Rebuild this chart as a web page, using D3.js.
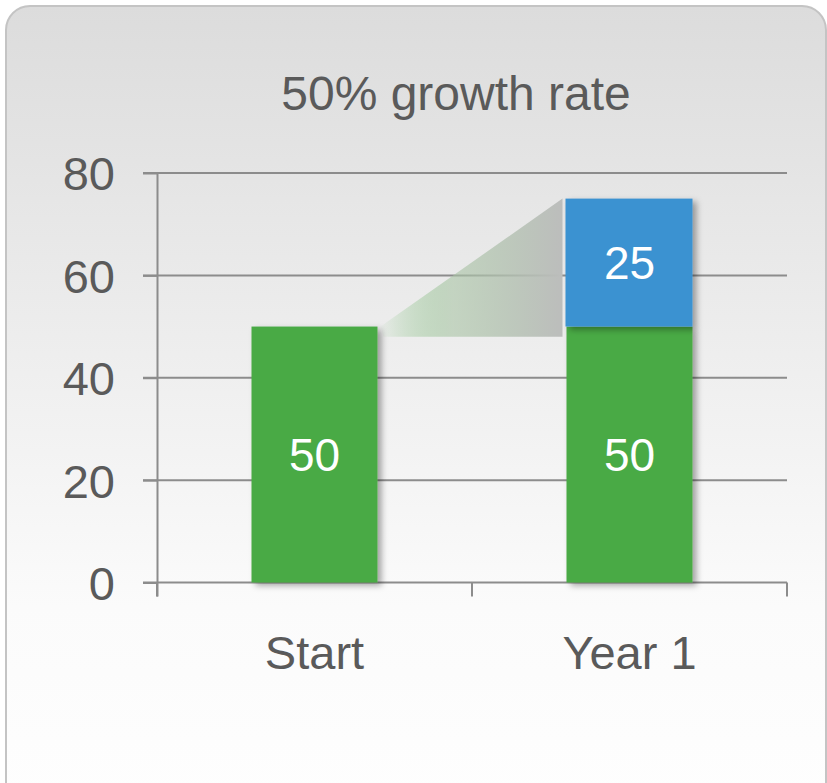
<!DOCTYPE html>
<html>
<head>
<meta charset="utf-8">
<script src="https://cdn.jsdelivr.net/npm/d3@7"></script>
<style>
  body { margin: 0; background: #fff; }
  text { font-family: "Liberation Sans", Arial, sans-serif; }
</style>
</head>
<body>
<svg id="chart" width="827" height="783"></svg>
<script>
const categories = ["Start", "Year 1"];
const baseValues = [50, 50];
const growthValues = [0, 25];
const yTicks = [0, 20, 40, 60, 80];
const title = "50% growth rate";

const width = 827;
const height = 783;
const marginLeft = 157;
const marginRight = 40;
const yTop = 173;
const yBottom = 582.5;

const green = "#4aaa45";
const blue = "#3b92d1";
const textColor = "#5a5a5a";
const gridColor = "#8c8c8c";

const svg = d3.select("#chart");
const defs = svg.append("defs");

// card background
const bg = defs.append("linearGradient")
    .attr("id", "bg").attr("x1", 0).attr("y1", 0).attr("x2", 0).attr("y2", 1);
bg.append("stop").attr("offset", 0).attr("stop-color", "#dcdcdc");
bg.append("stop").attr("offset", 0.75).attr("stop-color", "#fbfbfb");
bg.append("stop").attr("offset", 1).attr("stop-color", "#fefefe");

// connector fill
const conn = defs.append("linearGradient")
    .attr("id", "conn").attr("x1", 0).attr("y1", 0).attr("x2", 1).attr("y2", 0);
conn.append("stop").attr("offset", 0).attr("stop-color", "#4aaa45").attr("stop-opacity", 0.02);
conn.append("stop").attr("offset", 0.4).attr("stop-color", "#a9c4a5").attr("stop-opacity", 0.6);
conn.append("stop").attr("offset", 1).attr("stop-color", "#bcbdbc").attr("stop-opacity", 1);

const shadow = defs.append("filter")
    .attr("id", "shadow").attr("x", "-20%").attr("y", "-20%").attr("width", "150%").attr("height", "150%");
shadow.append("feDropShadow")
    .attr("dx", 4).attr("dy", 3).attr("stdDeviation", 3)
    .attr("flood-color", "#000").attr("flood-opacity", 0.35);

svg.append("rect")
    .attr("x", 6).attr("y", 6)
    .attr("width", 820).attr("height", 800)
    .attr("rx", 24).attr("ry", 24)
    .attr("fill", "url(#bg)")
    .attr("stroke", "#c4c4c4")
    .attr("stroke-width", 2);

const x = d3.scaleBand()
    .domain(categories)
    .range([marginLeft, width - marginRight])
    .padding(0);
const barWidth = x.bandwidth() * 0.4;
const barX = c => x(c) + (x.bandwidth() - barWidth) / 2;

const y = d3.scaleLinear()
    .domain([0, 80])
    .range([yBottom, yTop]);

// title
svg.append("text")
    .attr("x", 456)
    .attr("y", 110)
    .attr("text-anchor", "middle")
    .attr("font-size", 48)
    .attr("fill", textColor)
    .text(title);

// gridlines
svg.append("g")
    .selectAll("line")
    .data(yTicks)
    .join("line")
    .attr("x1", marginLeft - 14)
    .attr("x2", width - marginRight)
    .attr("y1", d => y(d))
    .attr("y2", d => y(d))
    .attr("stroke", gridColor)
    .attr("stroke-width", 2);

// vertical axis
svg.append("g")
    .attr("transform", `translate(${marginLeft},0)`)
    .call(d3.axisLeft(y).tickValues(yTicks).tickSize(14).tickPadding(28))
    .call(g => g.select(".domain").attr("stroke", gridColor).attr("stroke-width", 2)
        .attr("d", `M0.5,${yTop}V${yBottom + 14}`))
    .call(g => g.selectAll(".tick line").attr("stroke", gridColor).attr("stroke-width", 2))
    .call(g => g.selectAll(".tick text")
        .attr("font-size", 47)
        .attr("font-family", "Liberation Sans, Arial, sans-serif")
        .attr("fill", textColor)
        .attr("dy", "0.36em"));

// horizontal axis ticks at category boundaries
const bounds = [...categories.map(c => x(c)), x(categories[categories.length - 1]) + x.bandwidth()];
svg.append("g")
    .selectAll("line")
    .data(bounds)
    .join("line")
    .attr("x1", d => d).attr("x2", d => d)
    .attr("y1", yBottom).attr("y2", yBottom + 14)
    .attr("stroke", gridColor)
    .attr("stroke-width", 2);

svg.append("g")
    .selectAll("text")
    .data(categories)
    .join("text")
    .attr("x", d => x(d) + x.bandwidth() / 2)
    .attr("y", yBottom + 86)
    .attr("text-anchor", "middle")
    .attr("font-size", 47)
    .attr("fill", textColor)
    .text(d => d);

// connector from start to year 1
const x0 = barX(categories[0]) + barWidth + 3;
const x1 = barX(categories[1]) - 4;
svg.append("path")
    .attr("d", `M${x0},${y(baseValues[0])}L${x1},${y(baseValues[1] + growthValues[1])}L${x1},${y(48)}L${x0 + 3},${y(48)}Z`)
    .attr("fill", "url(#conn)");

// bars
const bars = svg.append("g");
bars.selectAll("rect.base")
    .data(categories)
    .join("rect")
    .attr("class", "base")
    .attr("x", d => barX(d))
    .attr("width", barWidth)
    .attr("y", (d, i) => y(baseValues[i]))
    .attr("height", (d, i) => y(0) - y(baseValues[i]))
    .attr("fill", green)
    .attr("filter", "url(#shadow)");

bars.selectAll("rect.growth")
    .data(categories.filter((d, i) => growthValues[i] > 0))
    .join("rect")
    .attr("class", "growth")
    .attr("x", d => barX(d) - 1)
    .attr("width", barWidth + 1)
    .attr("y", d => y(baseValues[categories.indexOf(d)] + growthValues[categories.indexOf(d)]))
    .attr("height", d => y(0) - y(growthValues[categories.indexOf(d)]))
    .attr("fill", blue)
    .attr("filter", "url(#shadow)");

// labels
svg.append("g")
    .selectAll("text")
    .data(categories)
    .join("text")
    .attr("x", d => barX(d) + barWidth / 2)
    .attr("y", (d, i) => y(baseValues[i] / 2))
    .attr("dy", "0.36em")
    .attr("text-anchor", "middle")
    .attr("font-size", 46)
    .attr("fill", "#fff")
    .text((d, i) => baseValues[i]);

svg.append("g")
    .selectAll("text")
    .data(categories.filter((d, i) => growthValues[i] > 0))
    .join("text")
    .attr("x", d => barX(d) + barWidth / 2)
    .attr("y", d => {
        const i = categories.indexOf(d);
        return y(baseValues[i] + growthValues[i] / 2);
    })
    .attr("dy", "0.36em")
    .attr("text-anchor", "middle")
    .attr("font-size", 46)
    .attr("fill", "#fff")
    .text(d => growthValues[categories.indexOf(d)]);
</script>
</body>
</html>
